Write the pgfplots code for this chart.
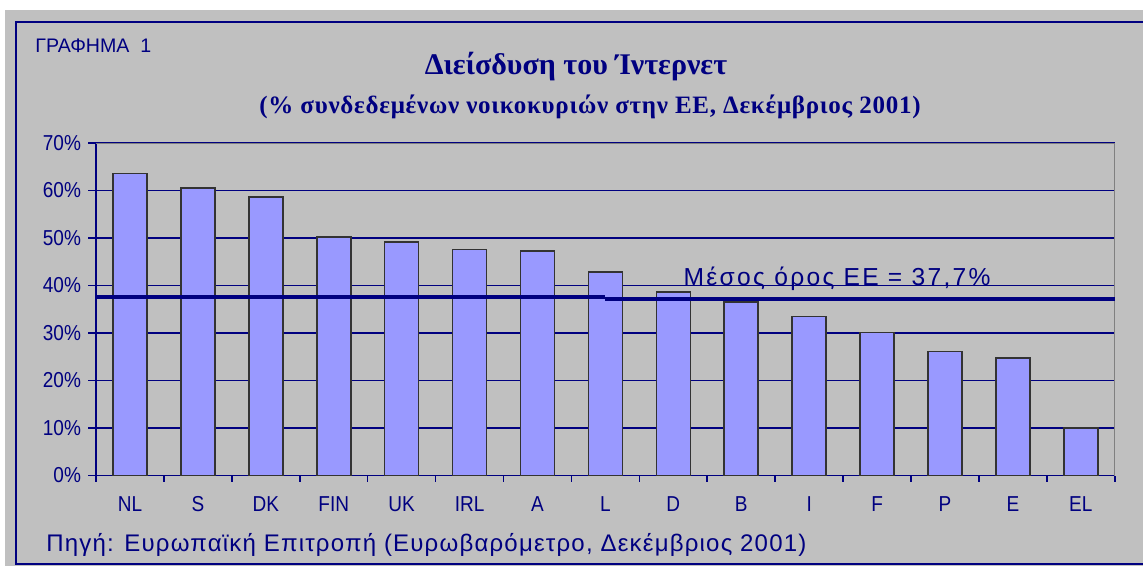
\documentclass[border=0pt]{standalone}
\usepackage{fontspec}
\setmainfont{Liberation Sans}
\newfontfamily\narrowsans[FakeStretch=0.88]{Liberation Sans}
\newfontfamily\sourcefont[LetterSpace=5]{Liberation Sans}
\newfontfamily\meanfont[LetterSpace=9.5]{Liberation Sans}
\newfontfamily\titlefont{Liberation Serif}
\newfontfamily\subtitlefont[LetterSpace=3]{Liberation Serif}
\usepackage{pgfplots}
\pgfplotsset{compat=1.18}

\definecolor{navy}{HTML}{000080}
\definecolor{xlgray}{HTML}{C0C0C0}
\definecolor{barblue}{HTML}{9999FF}
\definecolor{framegray}{HTML}{808080}

\begin{document}
\begin{tikzpicture}
% image is 1143x566 px, 1px = 0.5pt, origin top left
\useasboundingbox (0,0) rectangle (571.5pt,-283pt);
\fill[white] (0,0) rectangle (571.5pt,-283pt);
\fill[xlgray] (2.5pt,-5pt) rectangle (571.5pt,-283pt);
\draw[navy, line width=0.9pt] (574pt,-11pt) -- (8pt,-11pt) -- (8pt,-282pt) -- (574pt,-282pt);

\node[anchor=base west, inner sep=0pt, text=navy, font=\fontsize{9.8}{11}\selectfont] at (17.5pt,-26.5pt) {ΓΡΑΦΗΜΑ\ \ 1};
\node[anchor=base, text=navy, font=\titlefont\bfseries\fontsize{15}{17}\selectfont] at (288pt,-37.5pt) {Διείσδυση του Ίντερνετ};
\node[anchor=base, text=navy, font=\subtitlefont\bfseries\fontsize{12.5}{14}\selectfont] at (295pt,-57pt) {(\% συνδεδεμένων νοικοκυριών στην ΕΕ, Δεκέμβριος 2001)};
\node[anchor=base west, inner sep=0pt, text=navy, font=\sourcefont\fontsize{12}{14}\selectfont] at (23pt,-275.5pt) {Πηγή: Ευρωπαϊκή Επιτροπή (Ευρωβαρόμετρο, Δεκέμβριος 2001)};

\begin{axis}[
    at={(48pt,-237.75pt)}, anchor=south west,
    scale only axis,
    width=509.4pt, height=166.25pt,
    xmin=-0.5, xmax=14.5,
    ymin=0, ymax=70,
    axis x line*=bottom, axis y line*=left,
    axis line style={navy, line width=0.8pt},
    axis line style={-},
    tick align=outside,
    xtick={0,...,14},
    xticklabels={NL,S,DK,FIN,UK,IRL,A,L,D,B,I,F,P,E,EL},
    minor xtick={-0.5,0.5,...,14.5},
    every major x tick/.style={draw=none},
    every minor x tick/.style={navy, line width=0.8pt},
    minor tick length=3pt,
    major tick length=4pt,
    ytick={0,10,...,70},
    yticklabels={0\%,10\%,20\%,30\%,40\%,50\%,60\%,70\%},
    every major y tick/.style={navy, line width=0.8pt},
    tick label style={font=\narrowsans\fontsize{10.8}{12}\selectfont, text=navy},
    x tick label style={yshift=-3pt},
    ymajorgrids,
    grid style={navy, line width=0.6pt},
]
\draw[framegray, line width=0.8pt] (rel axis cs:0,1) -- (rel axis cs:1,1) -- (rel axis cs:1,0);

\addplot[ybar, bar width=17pt, fill=barblue, draw=black!80, line width=0.8pt] coordinates {
    (0,63.6) (1,60.5) (2,58.6) (3,50.2) (4,49.2) (5,47.6) (6,47.3) (7,42.9)
    (8,38.6) (9,36.5) (10,33.5) (11,30.1) (12,26.1) (13,24.8) (14,10.0)
};

\addplot[navy, line width=2pt] coordinates {(-0.5,37.5) (7.0,37.5)};
\addplot[navy, line width=2pt] coordinates {(7.0,37.2) (14.5,37.2)};

\node[anchor=base west, inner sep=0pt, text=navy, font=\meanfont\fontsize{12.3}{14}\selectfont]
    at (axis cs:8.145,40.1) {Μέσος όρος ΕΕ = 37,7\%};
\end{axis}
\end{tikzpicture}
\end{document}
